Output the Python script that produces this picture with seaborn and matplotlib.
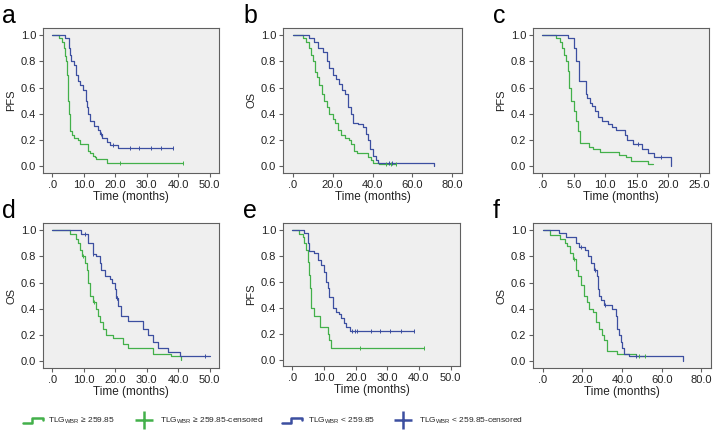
import numpy as np
import pandas as pd
import matplotlib
matplotlib.use('Agg')
import matplotlib.pyplot as plt
from matplotlib.lines import Line2D
from matplotlib.legend_handler import HandlerBase
from matplotlib.ticker import FuncFormatter
import seaborn as sns

sns.set_theme(style='white')
plt.rcParams['font.family'] = ['Liberation Sans', 'DejaVu Sans']
plt.rcParams['mathtext.fontset'] = 'custom'
plt.rcParams['mathtext.rm'] = 'Liberation Sans'

GREEN = '#43b04a'
BLUE = '#3c4fa0'

# --- panel a (PFS) ---
a_hi_t = [0, 2.1, 3.0, 3.6, 4.0, 4.3, 4.6, 4.9, 5.1, 5.3, 5.6, 6.3, 7.0, 8.0, 8.7, 11.3, 11.9, 12.8, 13.5, 14.0, 17.5, 41.5]
a_hi_s = [1.0, 0.98, 0.95, 0.9, 0.84, 0.8, 0.7, 0.6, 0.5, 0.4, 0.27, 0.24, 0.22, 0.2, 0.17, 0.12, 0.1, 0.08, 0.07, 0.06, 0.03, 0.03]
a_hi_c = [21.5, 41.5]
a_lo_t = [0, 3.9, 5.3, 5.6, 6.0, 6.8, 7.6, 8.2, 8.9, 9.7, 10.6, 11.0, 11.3, 12.0, 13.1, 14.5, 15.2, 15.9, 17.4, 18.2, 20.9, 38.3]
a_lo_s = [1.0, 0.98, 0.9, 0.85, 0.8, 0.77, 0.7, 0.65, 0.62, 0.58, 0.5, 0.45, 0.4, 0.35, 0.31, 0.28, 0.25, 0.22, 0.19, 0.16, 0.14, 0.14]
a_lo_c = [15.4, 19.3, 24.8, 27.6, 31.5, 34.7, 38.3]

# --- panel b (OS) ---
b_hi_t = [0, 5.0, 6.7, 8.3, 9.2, 10.0, 11.3, 12.0, 13.3, 14.7, 15.8, 17.0, 18.3, 20.0, 21.3, 22.5, 24.2, 26.3, 28.0, 29.2, 30.8, 32.0, 37.5, 39.2, 40.3, 43.3, 51.7]
b_hi_s = [1.0, 0.98, 0.95, 0.9, 0.85, 0.8, 0.72, 0.68, 0.62, 0.55, 0.5, 0.45, 0.4, 0.36, 0.33, 0.28, 0.24, 0.22, 0.2, 0.17, 0.12, 0.1, 0.07, 0.05, 0.03, 0.02, 0.02]
b_hi_c = [46.7, 49.2, 51.7]
b_lo_t = [0, 8.3, 10.8, 12.5, 15.0, 17.0, 18.3, 20.0, 21.7, 23.3, 24.7, 26.3, 27.5, 29.2, 30.3, 32.5, 35.0, 36.7, 37.5, 38.7, 40.3, 41.7, 43.0, 70.8]
b_lo_s = [1.0, 0.98, 0.95, 0.9, 0.87, 0.8, 0.75, 0.7, 0.67, 0.63, 0.58, 0.55, 0.45, 0.4, 0.33, 0.32, 0.3, 0.25, 0.2, 0.13, 0.08, 0.05, 0.03, 0.0]
b_lo_c = [48.3, 50.0]

# --- panel c (PFS) ---
c_hi_t = [0, 2.1, 2.8, 3.1, 3.4, 3.7, 4.1, 4.3, 4.6, 5.0, 5.3, 5.6, 5.9, 7.4, 8.0, 9.1, 12.2, 13.3, 14.1, 16.8, 17.6]
c_hi_s = [1.0, 0.98, 0.95, 0.9, 0.85, 0.8, 0.73, 0.6, 0.5, 0.42, 0.35, 0.27, 0.18, 0.15, 0.13, 0.11, 0.09, 0.07, 0.04, 0.02, 0.02]
c_hi_c = []
c_lo_t = [0, 4.1, 5.1, 5.4, 5.8, 6.9, 7.1, 7.5, 7.9, 8.4, 8.8, 9.5, 10.4, 11.0, 11.7, 13.1, 13.4, 14.4, 15.9, 16.8, 17.8, 20.5]
c_lo_s = [1.0, 0.98, 0.9, 0.8, 0.65, 0.55, 0.52, 0.48, 0.46, 0.42, 0.38, 0.35, 0.32, 0.3, 0.28, 0.24, 0.2, 0.17, 0.13, 0.1, 0.07, 0.0]
c_lo_c = [15.2, 18.9]

# --- panel d (OS) ---
d_hi_t = [0, 5.7, 7.6, 8.2, 8.8, 9.5, 10.3, 11.0, 11.4, 11.8, 12.9, 14.0, 14.5, 15.0, 16.1, 17.2, 19.3, 22.5, 24.0, 32.0, 37.8, 41.0]
d_hi_s = [1.0, 0.97, 0.93, 0.9, 0.85, 0.8, 0.75, 0.7, 0.6, 0.5, 0.45, 0.4, 0.35, 0.3, 0.25, 0.2, 0.18, 0.13, 0.1, 0.06, 0.04, 0.01]
d_hi_c = [9.7, 13.1]
d_lo_t = [0, 9.2, 11.3, 12.9, 14.0, 15.0, 15.6, 16.6, 18.2, 19.1, 19.8, 20.3, 20.9, 21.9, 24.0, 28.8, 30.4, 32.0, 33.6, 36.8, 40.5, 50.0]
d_lo_s = [1.0, 0.97, 0.9, 0.82, 0.8, 0.75, 0.7, 0.65, 0.63, 0.6, 0.55, 0.48, 0.42, 0.35, 0.31, 0.25, 0.2, 0.15, 0.1, 0.07, 0.04, 0.04]
d_lo_c = [10.3, 13.0, 20.4, 20.7, 48.5]

# --- panel e (PFS) ---
e_hi_t = [0, 2.1, 3.2, 3.8, 4.3, 4.8, 5.2, 5.5, 5.9, 6.9, 8.8, 11.2, 11.7, 12.2, 41.5]
e_hi_s = [1.0, 0.97, 0.95, 0.9, 0.85, 0.75, 0.65, 0.55, 0.4, 0.34, 0.25, 0.2, 0.15, 0.09, 0.09]
e_hi_c = [21.3, 41.5]
e_lo_t = [0, 3.7, 4.8, 5.3, 6.9, 8.0, 9.0, 10.1, 10.6, 11.2, 11.7, 12.8, 13.8, 14.7, 15.4, 16.2, 17.0, 18.1, 38.3]
e_lo_s = [1.0, 0.98, 0.9, 0.84, 0.82, 0.77, 0.73, 0.68, 0.6, 0.55, 0.48, 0.4, 0.37, 0.35, 0.32, 0.28, 0.25, 0.22, 0.22]
e_lo_c = [18.7, 19.7, 20.3, 24.9, 27.6, 30.9, 34.3, 38.3]

# --- panel f (OS) ---
f_hi_t = [0, 4.0, 8.6, 11.1, 12.3, 13.6, 15.3, 16.9, 17.7, 19.4, 21.1, 22.2, 23.5, 25.2, 26.9, 28.5, 29.9, 31.0, 32.7, 37.6, 41.5, 46.8, 51.7]
f_hi_s = [1.0, 0.96, 0.93, 0.9, 0.88, 0.83, 0.78, 0.7, 0.65, 0.58, 0.5, 0.45, 0.4, 0.38, 0.3, 0.25, 0.2, 0.16, 0.08, 0.06, 0.06, 0.04, 0.04]
f_hi_c = [16.0, 48.5, 51.7]
f_lo_t = [0, 8.3, 11.9, 16.9, 18.6, 21.6, 22.7, 24.4, 26.0, 27.2, 28.0, 28.5, 29.4, 31.0, 35.2, 36.8, 37.6, 38.5, 39.3, 40.2, 41.0, 43.4, 70.8]
f_lo_s = [1.0, 0.98, 0.95, 0.9, 0.87, 0.85, 0.8, 0.75, 0.7, 0.65, 0.55, 0.5, 0.47, 0.43, 0.4, 0.35, 0.25, 0.2, 0.15, 0.1, 0.06, 0.04, 0.0]
f_lo_c = [19.5, 26.5, 31.6, 47.0]

panels = [
    ('a', 'PFS', 50, 10, (43, 28, 176, 145), a_hi_t, a_hi_s, a_hi_c, a_lo_t, a_lo_s, a_lo_c),
    ('b', 'OS', 80, 20, (283, 28, 179, 145), b_hi_t, b_hi_s, b_hi_c, b_lo_t, b_lo_s, b_lo_c),
    ('c', 'PFS', 25, 5, (533, 28, 176, 145), c_hi_t, c_hi_s, c_hi_c, c_lo_t, c_lo_s, c_lo_c),
    ('d', 'OS', 50, 10, (43, 223, 176, 145), d_hi_t, d_hi_s, d_hi_c, d_lo_t, d_lo_s, d_lo_c),
    ('e', 'PFS', 50, 10, (283, 223, 177, 143), e_hi_t, e_hi_s, e_hi_c, e_lo_t, e_lo_s, e_lo_c),
    ('f', 'OS', 80, 20, (533, 223, 178, 145), f_hi_t, f_hi_s, f_hi_c, f_lo_t, f_lo_s, f_lo_c),
]

W, H = 716, 433


def km_curve(ax, t, s, cens, color):
    df = pd.DataFrame({'t': t, 's': s})
    sns.lineplot(data=df, x='t', y='s', ax=ax, color=color, lw=0.9,
                 drawstyle='steps-post', estimator=None, sort=False)
    if cens:
        idx = np.searchsorted(t, cens, side='right') - 1
        cs = np.array(s)[idx]
        sns.scatterplot(x=cens, y=cs, ax=ax, marker='|', s=12, color=color,
                        linewidth=0.7, zorder=3)


fmt = FuncFormatter(lambda v, p: '.0' if abs(v) < 1e-9 else f'{v:.1f}')

fig = plt.figure(figsize=(W / 100, H / 100), dpi=100)
for (letter, ylab, xmax, xstep, (px, py, pw, ph),
     hi_t, hi_s, hi_c, lo_t, lo_s, lo_c) in panels:
    ax = fig.add_axes([px / W, 1 - (py + ph) / H, pw / W, ph / H])
    ax.set_facecolor('#efefef')
    km_curve(ax, hi_t, hi_s, hi_c, GREEN)
    km_curve(ax, lo_t, lo_s, lo_c, BLUE)
    ax.set_xlim(-0.06 * xmax, 1.06 * xmax)
    ax.set_ylim(-0.05, 1.055)
    ax.set_xticks(np.arange(0, xmax + xstep / 2, xstep))
    ax.set_yticks(np.arange(0, 1.01, 0.2))
    ax.xaxis.set_major_formatter(fmt)
    ax.yaxis.set_major_formatter(FuncFormatter(lambda v, p: f'{v:.1f}'))
    ax.tick_params(bottom=True, left=True, direction='out', length=3,
                   width=0.8, color='#606060', labelsize=8, pad=2,
                   labelcolor='#222222')
    for sp in ax.spines.values():
        sp.set_color('#606060')
        sp.set_linewidth(0.8)
    ax.set_xlabel('Time (months)', fontsize=8.5, labelpad=1, color='#222222')
    ax.set_ylabel(ylab, fontsize=8, labelpad=3, color='#222222')
    fig.text((px - 41 if px < 100 else px - 40) / W, 1 - (py - 24) / H,
             letter, fontsize=18, va='top', ha='left', color='black')


class StepHandler(HandlerBase):
    def create_artists(self, legend, orig_handle, xdescent, ydescent,
                       width, height, fontsize, trans):
        x = np.array([0, 0.45, 0.45, 1.0, 1.0]) * width - xdescent
        y = np.array([-0.05, -0.05, 0.9, 0.9, 0.45]) * height - ydescent
        line = Line2D(x, y, color=orig_handle.get_color(), lw=1.8)
        line.set_transform(trans)
        return [line]


class StepLine(Line2D):
    pass


h1 = StepLine([], [], color=GREEN)
h2 = Line2D([], [], color=GREEN, marker='+', ls='none', markersize=13, mew=1.8)
h3 = StepLine([], [], color=BLUE)
h4 = Line2D([], [], color=BLUE, marker='+', ls='none', markersize=13, mew=1.8)
labels = [r'TLG$_{\mathrm{WBR}}$ ≥ 259.85',
          r'TLG$_{\mathrm{WBR}}$ ≥ 259.85-censored',
          r'TLG$_{\mathrm{WBR}}$ < 259.85',
          r'TLG$_{\mathrm{WBR}}$ < 259.85-censored']
fig.legend([h1, h2, h3, h4], labels, loc='center left',
           bbox_to_anchor=(15 / W, 1 - 421 / H), ncol=4, frameon=False,
           fontsize=6.0, handlelength=2.4, handletextpad=0.72,
           columnspacing=2.2, handler_map={StepLine: StepHandler()})

fig.savefig('out.png', dpi=100)
